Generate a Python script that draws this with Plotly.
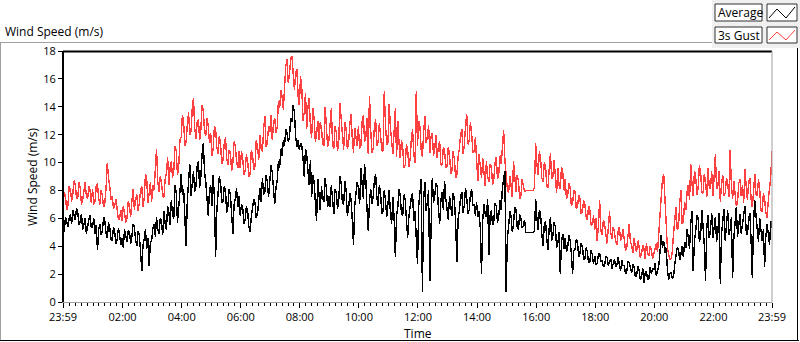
import pandas as pd
import plotly.graph_objects as go

# ---------------- data (2.5-minute samples from 23:59 to 23:59) ----------------
START = "2024-01-01 23:59"
STEP_SEC = 150

average = [
    5.6, 5.0, 6.1, 5.7, 5.4, 6.0, 6.3, 5.6, 6.6, 6.2, 5.9, 6.7, 6.4, 5.5, 5.8, 6.3, 5.2, 5.6, 6.0, 4.9, 5.5, 5.9, 6.2, 5.3,
    5.4, 6.0, 4.9, 5.5, 3.7, 5.2, 5.6, 4.8, 5.1, 6.1, 5.8, 4.9, 4.6, 5.7, 5.3, 4.5, 4.4, 5.4, 5.0, 4.2, 4.5, 5.3, 4.8, 4.1,
    4.6, 3.9, 5.2, 4.7, 4.3, 5.1, 5.0, 4.2, 4.7, 5.6, 5.4, 4.4, 4.0, 5.1, 4.8, 3.6, 2.2, 4.1, 4.5, 5.2, 3.8, 4.6, 2.6, 4.3,
    4.4, 5.3, 5.6, 4.7, 6.1, 5.2, 4.9, 6.0, 5.8, 4.8, 6.5, 5.6, 5.2, 6.9, 6.4, 5.5, 7.3, 6.2, 6.0, 8.4, 7.8, 5.7, 6.6, 7.9,
    9.2, 7.7, 8.1, 6.4, 4.0, 7.3, 8.8, 9.9, 7.6, 8.5, 9.4, 7.9, 8.3, 9.7, 10.1, 8.2, 9.0, 10.6, 11.4, 9.3, 8.6, 7.4, 6.2, 8.0,
    8.4, 6.9, 9.1, 7.5, 3.2, 6.6, 7.8, 9.0, 8.6, 7.1, 7.2, 8.3, 8.0, 6.4, 6.9, 8.1, 7.7, 6.2, 4.9, 7.0, 7.4, 8.2, 6.8, 7.6,
    6.2, 7.0, 6.8, 5.6, 5.9, 6.9, 6.5, 5.4, 5.0, 6.1, 6.6, 7.4, 7.1, 6.0, 6.3, 7.6, 8.2, 7.2, 8.9, 7.7, 7.9, 9.1, 8.6, 7.5,
    8.4, 9.8, 9.3, 8.0, 7.0, 8.2, 8.7, 10.1, 9.6, 11.0, 10.5, 11.6, 11.2, 12.4, 12.1, 11.5, 11.8, 13.2, 12.9, 14.1, 13.6, 11.9, 11.1, 11.6,
    10.9, 11.4, 11.2, 10.3, 9.0, 11.0, 10.6, 9.4, 8.4, 10.2, 7.5, 9.1, 8.6, 7.2, 5.8, 8.8, 7.9, 6.6, 8.3, 7.4, 7.2, 8.9, 8.1, 6.8,
    7.6, 6.8, 8.4, 7.3, 6.3, 8.1, 7.9, 6.7, 7.2, 9.0, 8.5, 7.1, 7.0, 8.7, 8.0, 6.2, 6.6, 7.8, 7.4, 5.9, 4.1, 6.9, 7.7, 8.6,
    8.2, 7.0, 9.6, 8.3, 7.4, 9.9, 8.8, 6.7, 5.1, 7.2, 8.1, 7.0, 7.6, 8.7, 9.2, 7.5, 6.9, 8.4, 7.8, 6.3, 6.5, 8.0, 7.3, 6.1,
    7.1, 8.0, 6.4, 5.6, 7.5, 6.0, 3.2, 6.2, 6.8, 8.1, 7.6, 6.3, 6.2, 7.7, 7.3, 5.9, 4.6, 6.1, 6.9, 7.5, 7.8, 5.8, 6.5, 4.2,
    2.7, 6.9, 7.8, 8.8, 0.7, 7.4, 8.6, 6.5, 7.2, 8.0, 1.5, 6.8, 8.9, 7.1, 7.6, 8.5, 8.3, 6.7, 5.6, 7.3, 7.9, 6.6, 8.7, 7.4,
    6.8, 5.9, 7.6, 6.7, 6.2, 7.8, 7.4, 5.6, 2.9, 6.0, 6.5, 7.5, 7.9, 6.4, 6.9, 8.2, 7.5, 6.3, 6.6, 7.7, 8.1, 6.9, 7.0, 6.2,
    7.2, 6.1, 6.5, 5.3, 2.0, 5.9, 7.0, 6.3, 6.1, 7.4, 3.4, 6.2, 6.6, 5.5, 5.8, 7.1, 6.9, 5.7, 6.2, 7.3, 6.6, 8.2, 9.0, 9.4,
    0.7, 4.6, 5.4, 6.5, 6.2, 5.0, 5.6, 6.8, 6.6, 5.4, 5.2, 6.3, 6.0, 5.3, 5.5, 5.9, 5.0, 5.0, 5.0, 5.0, 5.0, 5.0, 5.0, 5.1,
    7.4, 6.0, 5.2, 6.6, 6.3, 4.9, 4.0, 5.5, 5.8, 4.6, 3.7, 5.3, 6.1, 4.4, 4.8, 5.7, 5.4, 3.9, 4.2, 5.0, 2.0, 4.3, 4.9, 3.8,
    4.6, 3.6, 3.9, 4.8, 4.4, 3.5, 2.0, 3.7, 3.8, 4.5, 4.3, 3.2, 3.5, 4.2, 4.0, 3.0, 3.1, 3.9, 3.6, 2.8, 2.9, 3.7, 3.4, 2.7,
    3.3, 2.7, 2.8, 3.4, 3.5, 2.9, 3.0, 2.5, 2.6, 3.3, 3.2, 2.6, 2.9, 3.1, 2.4, 2.8, 3.1, 2.5, 2.7, 3.2, 2.5, 2.2, 3.0, 2.6,
    2.6, 2.0, 2.2, 2.9, 2.8, 2.3, 2.1, 2.7, 2.5, 1.8, 1.9, 2.6, 2.3, 1.6, 1.8, 2.4, 1.4, 2.1, 2.2, 1.6, 1.7, 2.5, 2.0, 2.4,
    2.3, 2.8, 1.9, 2.2, 2.6, 3.6, 4.8, 3.9, 4.4, 3.5, 3.9, 2.4, 1.6, 2.0, 2.1, 1.7, 1.8, 2.7, 3.2, 3.9, 3.8, 3.0, 3.4, 4.0,
    3.2, 4.3, 3.9, 5.2, 4.6, 3.8, 5.6, 6.5, 2.2, 4.4, 5.0, 6.2, 6.0, 4.3, 4.8, 6.6, 5.4, 4.1, 1.5, 5.3, 6.2, 4.6, 5.1, 6.4,
    4.6, 5.5, 6.1, 4.3, 5.0, 6.4, 1.3, 4.9, 5.8, 6.7, 4.4, 5.3, 6.6, 4.8, 5.2, 6.1, 1.7, 4.6, 5.9, 6.8, 4.7, 5.6, 6.3, 4.9,
    5.5, 6.3, 6.9, 5.1, 4.8, 5.9, 6.4, 4.5, 1.7, 5.8, 7.3, 6.2, 5.2, 4.3, 6.0, 5.0, 4.4, 5.2, 2.5, 4.7, 5.6, 4.9, 4.1, 5.8, 5.3,
]

gust = [
    6.8, 7.9, 7.6, 6.6, 6.9, 8.3, 8.1, 7.2, 7.8, 8.7, 8.4, 7.4, 7.5, 8.6, 8.2, 7.0, 7.3, 8.1, 8.6, 7.6, 7.4, 8.3, 8.0, 7.1,
    8.1, 7.0, 7.2, 8.3, 8.5, 7.4, 7.0, 8.0, 7.6, 6.8, 7.1, 8.2, 10.0, 8.9, 8.3, 7.3, 7.6, 6.7, 6.9, 7.4, 6.4, 5.9, 6.0, 6.6,
    5.8, 6.9, 6.4, 5.7, 6.0, 7.2, 6.9, 6.1, 7.3, 8.1, 6.6, 7.4, 7.7, 6.5, 7.1, 8.0, 8.3, 6.8, 7.5, 9.2, 8.8, 7.1, 7.8, 8.6,
    7.2, 8.4, 8.0, 9.3, 11.0, 8.6, 7.9, 9.0, 8.6, 7.6, 7.5, 8.8, 9.2, 10.4, 8.4, 9.6, 10.1, 8.9, 9.4, 11.2, 10.8, 9.1, 9.7, 11.6,
    11.8, 13.4, 12.9, 11.2, 11.5, 12.7, 13.6, 12.0, 12.2, 13.9, 14.6, 12.5, 11.7, 12.9, 13.1, 11.6, 12.4, 14.1, 13.8, 12.2, 11.9, 13.2, 12.6, 11.4,
    12.1, 10.5, 11.0, 12.6, 12.4, 11.1, 10.6, 11.9, 11.3, 9.9, 10.2, 11.4, 11.8, 10.3, 9.8, 10.9, 10.7, 9.4, 10.0, 11.5, 11.2, 10.1, 9.6, 10.8,
    9.6, 10.8, 10.3, 9.1, 9.4, 10.6, 10.1, 9.0, 9.2, 10.9, 10.5, 9.5, 9.7, 11.6, 11.2, 10.2, 12.0, 11.0, 10.8, 12.4, 13.3, 11.1, 11.4, 12.6,
    12.2, 13.4, 11.6, 12.8, 13.2, 12.1, 12.5, 14.4, 13.9, 15.2, 14.7, 13.8, 15.8, 16.9, 17.4, 15.7, 16.3, 17.5, 17.6, 16.0, 15.2, 16.4, 16.7, 14.8,
    14.1, 16.2, 15.3, 13.0, 13.6, 15.0, 12.4, 14.0, 14.6, 12.6, 11.8, 13.9, 13.2, 11.5, 12.0, 13.0, 11.6, 12.9, 12.5, 11.3, 11.2, 14.0, 12.3, 11.1,
    11.6, 13.0, 13.9, 11.3, 11.0, 12.6, 12.2, 10.8, 11.4, 14.3, 13.1, 11.5, 10.9, 12.9, 12.4, 11.0, 11.3, 12.7, 13.5, 11.8, 10.7, 12.5, 12.0, 11.2,
    12.6, 11.0, 11.2, 12.9, 13.4, 11.5, 11.8, 13.2, 10.6, 14.8, 12.3, 10.7, 11.0, 12.6, 13.1, 11.2, 11.5, 12.8, 12.0, 10.9, 10.8, 15.1, 12.7, 11.3,
    11.4, 14.2, 12.5, 11.2, 10.6, 12.2, 13.9, 10.4, 13.0, 11.4, 10.3, 11.6, 11.1, 9.6, 9.8, 11.3, 10.9, 9.7, 10.2, 11.7, 12.4, 10.6, 10.0, 15.1,
    11.2, 13.0, 12.6, 10.9, 10.4, 12.2, 13.3, 11.4, 11.8, 12.7, 10.7, 11.9, 12.1, 10.5, 11.0, 12.0, 10.3, 11.2, 11.5, 9.9, 9.8, 11.1, 10.9, 9.6,
    9.7, 11.1, 10.6, 9.2, 9.4, 10.8, 10.2, 8.9, 9.1, 10.4, 11.0, 12.0, 12.4, 10.6, 11.2, 12.6, 13.5, 11.3, 11.6, 12.9, 12.1, 10.7, 10.8, 11.8,
    9.8, 8.7, 10.6, 9.5, 8.9, 10.3, 9.4, 8.3, 10.1, 9.0, 8.6, 9.9, 9.7, 8.4, 8.8, 10.0, 10.4, 8.8, 9.2, 10.5, 9.9, 11.0, 12.3, 10.2,
    9.2, 8.1, 7.8, 9.0, 8.4, 7.5, 10.1, 8.6, 7.9, 9.1, 8.7, 7.4, 7.6, 8.8, 8.3, 7.9, 8.0, 8.0, 8.0, 8.0, 8.0, 8.0, 8.0, 8.2,
    11.4, 9.9, 9.1, 10.8, 10.3, 8.9, 8.6, 10.0, 9.8, 8.3, 8.2, 9.5, 10.7, 8.8, 9.0, 10.2, 8.5, 7.8, 9.6, 8.4, 8.1, 9.7, 9.3, 8.0,
    8.8, 7.4, 7.6, 8.5, 8.2, 6.9, 7.1, 8.0, 7.9, 6.7, 6.8, 7.7, 7.4, 6.3, 6.5, 7.3, 7.0, 6.1, 5.9, 6.9, 6.6, 5.5, 5.6, 6.2,
    5.2, 6.0, 4.4, 5.5, 7.3, 5.1, 4.8, 5.9, 5.6, 4.6, 4.2, 5.3, 6.5, 5.0, 4.5, 5.4, 5.0, 4.3, 4.1, 5.1, 5.4, 4.4, 4.7, 5.2,
    4.5, 3.7, 3.9, 4.8, 5.6, 4.3, 4.1, 3.5, 4.6, 3.9, 3.6, 4.4, 4.0, 3.2, 3.4, 4.1, 3.8, 3.1, 4.2, 3.5, 3.3, 4.0, 3.7, 3.1,
    3.5, 3.9, 4.2, 3.6, 5.1, 6.6, 8.0, 8.8, 9.2, 7.5, 6.4, 3.9, 3.4, 3.0, 3.1, 3.6, 4.9, 5.9, 6.8, 5.2, 5.3, 7.1, 8.0, 5.6,
    5.7, 7.2, 6.6, 7.9, 8.4, 7.3, 9.9, 8.5, 7.6, 9.4, 9.0, 7.7, 8.2, 9.8, 9.3, 7.9, 7.8, 9.2, 8.7, 7.5, 9.6, 8.3, 8.1, 9.4,
    7.6, 9.0, 10.6, 8.1, 8.3, 9.4, 7.2, 8.5, 9.1, 7.6, 7.8, 8.9, 8.6, 7.5, 10.9, 8.4, 7.4, 8.7, 8.0, 6.9, 7.1, 8.5, 8.8, 7.6,
    8.4, 7.1, 9.5, 8.0, 7.3, 8.6, 8.9, 7.4, 6.8, 7.9, 9.2, 7.7, 7.6, 8.8, 8.1, 6.6, 6.5, 7.8, 7.4, 6.4, 6.0, 7.3, 8.2, 9.0, 10.8,
]

tick_labels = ["23:59", "02:00", "04:00", "06:00", "08:00", "10:00", "12:00",
               "14:00", "16:00", "18:00", "20:00", "22:00", "23:59"]
y_ticks = [0, 2, 4, 6, 8, 10, 12, 14, 16, 18]
series_names = ["Average", "3s Gust"]

# ---------------- build ----------------
t0 = pd.Timestamp(START)
times = [t0 + pd.Timedelta(seconds=STEP_SEC * i) for i in range(len(average))]
t_end = times[-1]
tick_vals = [t0] + [pd.Timestamp("2024-01-02") + pd.Timedelta(hours=h) for h in range(2, 24, 2)] + [t_end]

W, H = 800, 342
L, R, T, B = 63, 772, 51, 302   # plot area in pixels


def px(x):
    return (x - L) / (R - L)


def py(y):
    return (B - y) / (B - T)


FONT = "Open Sans"
fig = go.Figure()
fig.add_trace(go.Scatter(x=times, y=gust, mode="lines", name=series_names[1],
                         line=dict(color="#ff4040", width=1.4)))
fig.add_trace(go.Scatter(x=times, y=average, mode="lines", name=series_names[0],
                         line=dict(color="#000000", width=1.4)))

shapes = []


def line(x0, y0, x1, y1, color, width=1):
    shapes.append(dict(type="line", xref="paper", yref="paper",
                       x0=px(x0), y0=py(y0), x1=px(x1), y1=py(y1),
                       line=dict(color=color, width=width), layer="above"))


def rect(x0, y0, x1, y1, fill, color=None, width=1):
    shapes.append(dict(type="rect", xref="paper", yref="paper",
                       x0=px(x0), y0=py(y0), x1=px(x1), y1=py(y1),
                       fillcolor=fill, line=dict(color=color or fill, width=width if color else 0),
                       layer="above"))


# outer frame
line(0, 42.5, 712, 42.5, "#a0a0a0")
line(0.5, 42.5, 0.5, 341, "#a0a0a0")
line(0, 340.5, 799, 340.5, "#000000")
line(797.5, 48, 797.5, 341, "#000000")
# legend panel
rect(712, 0, 800, 48, "#f0f0f0")
# plot-area border
line(63, 51.5, 772, 51.5, "#000000", 2)
line(63, 51, 63, 302.5, "#000000", 2)
line(63, 302.5, 772, 302.5, "#a0a0a0")
line(772, 51, 772, 302.5, "#a0a0a0")

annotations = []
rows = [(4, 21, series_names[0], "#000000"), (27, 43, series_names[1], "#ff4040")]
for (y0, y1, name, col) in rows:
    rect(715, y0, 762, y1, "#ffffff", "#303030")
    rect(767, y0, 797, y1, "#ffffff", "#303030")
    ym = (y0 + y1) / 2
    shapes.append(dict(type="path", xref="paper", yref="paper", layer="above",
                       path=f"M {px(769)},{py(y1-3)} L {px(777)},{py(y0+5)} "
                            f"L {px(786)},{py(y1-3)} L {px(795)},{py(y0+3)}",
                       line=dict(color=col, width=1)))
    annotations.append(dict(text=name, xref="paper", yref="paper", x=px(716), y=py(ym),
                            xanchor="left", yanchor="middle", showarrow=False,
                            font=dict(family=FONT, size=12, color="#000")))

annotations.append(dict(text="Wind Speed (m/s)", xref="paper", yref="paper",
                        x=px(3), y=py(31), xanchor="left", yanchor="middle", showarrow=False,
                        font=dict(family=FONT, size=12, color="#000")))
annotations.append(dict(text="Wind Speed (m/s)", xref="paper", yref="paper",
                        x=px(32), y=py(177), textangle=-90, xanchor="center", yanchor="middle",
                        showarrow=False, font=dict(family=FONT, size=12, color="#000")))
annotations.append(dict(text="Time", xref="paper", yref="paper",
                        x=px(418), y=py(333), xanchor="center", yanchor="middle",
                        showarrow=False, font=dict(family=FONT, size=12, color="#000")))

fig.update_layout(
    width=W, height=H,
    margin=dict(l=L, r=W - R, t=T, b=H - B),
    paper_bgcolor="white", plot_bgcolor="white",
    showlegend=False,
    shapes=shapes, annotations=annotations,
    font=dict(family=FONT, size=11, color="#000"),
    xaxis=dict(type="date", range=[t0, t_end], tickmode="array", tickvals=tick_vals,
               ticktext=tick_labels, ticks="outside", ticklen=5, tickcolor="#000",
               showgrid=False, zeroline=False, showline=False,
               tickfont=dict(family=FONT, size=11, color="#000"),
               minor=dict(ticks="outside", ticklen=3, tickcolor="#000",
                          tick0="2024-01-02 00:00", dtick=12 * 60 * 1000, showgrid=False)),
    yaxis=dict(range=[0, 18], tickmode="array", tickvals=y_ticks, ticks="outside",
               ticklen=4, tickcolor="#000", showgrid=False, zeroline=False, showline=False,
               tickfont=dict(family=FONT, size=11, color="#000")),
)

post = ("document.body.style.margin='0';document.body.style.overflow='hidden';"
        "document.querySelectorAll('.scatterlayer .js-line').forEach(function(p){"
        "p.style.shapeRendering='crispEdges';});")
fig.write_html("out.html", config={"displayModeBar": False}, post_script=post)
